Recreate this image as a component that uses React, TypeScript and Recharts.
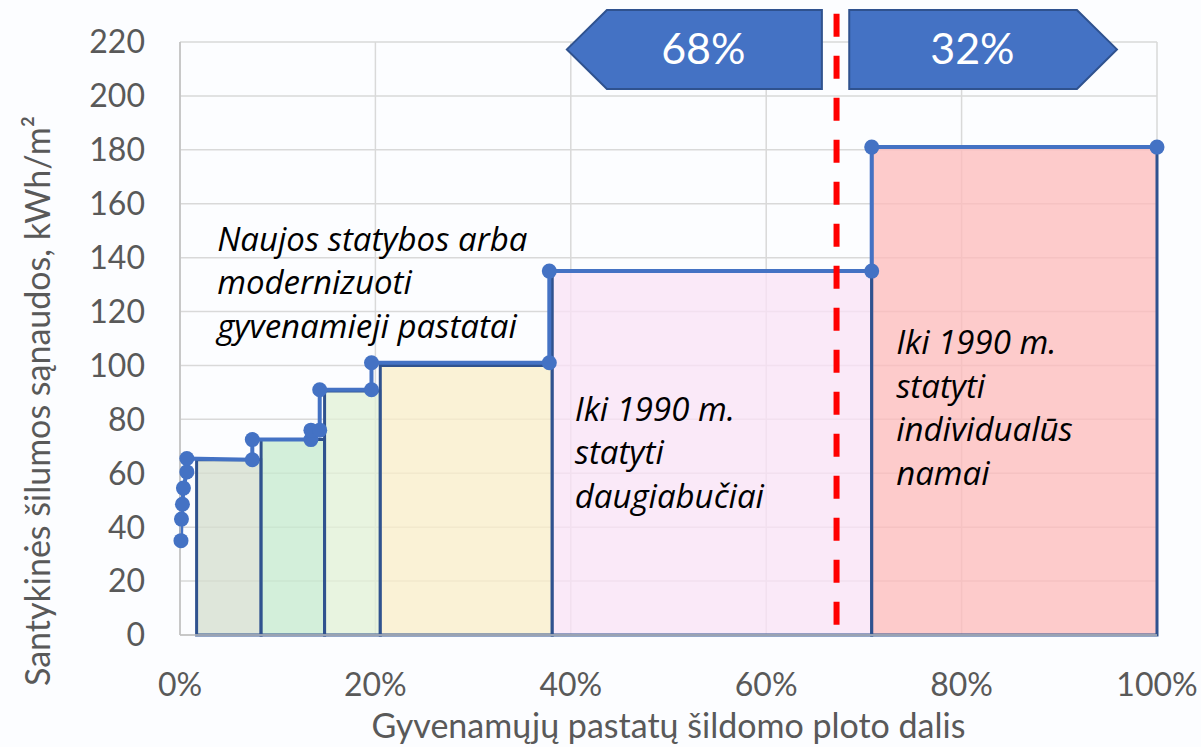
import React from 'react';
import {
  ComposedChart,
  Line,
  XAxis,
  YAxis,
  CartesianGrid,
  ReferenceArea,
  ReferenceLine,
  ReferenceDot,
  Label,
} from 'recharts';

const FONT = 'Lato, "Open Sans", sans-serif';
const NOTE_FONT = '"Open Sans", Lato, sans-serif';

// axis ticks
const shareTicks = [0, 20, 40, 60, 80, 100];
const energyTicks = [0, 20, 40, 60, 80, 100, 120, 140, 160, 180, 200, 220];

// step line (share of heated area %, kWh/m2)
const stepShare = [0.1, 0.15, 0.25, 0.35, 0.7, 0.7, 7.4, 7.4, 13.4, 13.4, 14.3, 14.3, 19.6, 19.6, 37.8, 37.8, 70.8, 70.8, 100];
const stepEnergy = [35, 43, 48.5, 54.5, 60.5, 65.5, 65, 72.5, 72.5, 76, 76, 91, 91, 101, 101, 135, 135, 181, 181];

// building groups drawn as blocks
const groupStart = [1.7, 8.3, 14.8, 20.5, 38.1, 70.8];
const groupEnd = [8.3, 14.8, 20.5, 38.1, 70.8, 100];
const groupEnergy = [65, 72.5, 90.5, 100, 135, 181];
const groupFill = ['#d4ddcd', '#c6eace', '#e2f0d6', '#faeec8', '#fae2f6', '#feb9b9'];

// annotations
const noteLines = [
  ['Naujos statybos arba', 'modernizuoti', 'gyvenamieji pastatai'],
  ['Iki 1990 m.', 'statyti', 'daugiabučiai'],
  ['Iki 1990 m.', 'statyti', 'individualūs', 'namai'],
];
const noteShare = [3.8, 40.4, 73.3];
const noteEnergy = [146.6, 83.5, 108.3];

// split marker and shares
const splitShare = 67.2;
const shareLabels = ['68%', '32%'];

const lineData = stepShare.map((x, i) => ({ x, y: stepEnergy[i] }));

const makeNote = (lines: string[]) => (props: any) => {
  const { cx, cy } = props;
  return (
    <text x={cx} y={cy + 11} fontFamily={NOTE_FONT} fontStyle="italic" fontSize={33} fill="#000">
      {lines.map((l, i) => (
        <tspan key={i} x={cx} dy={i === 0 ? 0 : 43.5}>
          {l}
        </tspan>
      ))}
    </text>
  );
};

const makeArrow = (dir: 'left' | 'right', label: string) => (props: any) => {
  const { x, y, width, height } = props;
  const tip = 40;
  const mid = y + height / 2;
  const pts =
    dir === 'left'
      ? `${x},${mid} ${x + tip},${y} ${x + width},${y} ${x + width},${y + height} ${x + tip},${y + height}`
      : `${x},${y} ${x + width - tip},${y} ${x + width},${mid} ${x + width - tip},${y + height} ${x},${y + height}`;
  const tx = dir === 'left' ? x + width * 0.535 : x + width * 0.46;
  return (
    <g>
      <polygon points={pts} fill="#4472c4" stroke="#2f528f" strokeWidth={2} />
      <text
        x={tx}
        y={mid + 15}
        textAnchor="middle"
        fontFamily={FONT}
        fontSize={43}
        fill="#fff"
      >
        {label}
      </text>
    </g>
  );
};

const renderYTitle = (props: any) => {
  const vb = props.viewBox || {};
  const cx = (vb.x || 0) + 50;
  const cy = 401;
  return (
    <text
      transform={`translate(${cx},${cy}) rotate(-90)`}
      textAnchor="middle"
      fontFamily={FONT}
      fontSize={34}
      fill="#595959"
    >
      Santykinės šilumos sąnaudos, kWh/m²
    </text>
  );
};

const renderXTitle = (props: any) => {
  const vb = props.viewBox || {};
  const cx = (vb.x || 0) + (vb.width || 0) / 2;
  return (
    <text x={cx} y={738} textAnchor="middle" fontFamily={FONT} fontSize={34} fill="#595959">
      Gyvenamųjų pastatų šildomo ploto dalis
    </text>
  );
};

export default function App() {
  return (
    <div style={{ position: 'absolute', left: 0, top: 0, width: 1201, height: 747, background: '#fcfdff' }}>
      <ComposedChart
        width={1201}
        height={747}
        data={lineData}
        margin={{ top: 42, right: 44, bottom: 0, left: 0 }}
      >
        <CartesianGrid stroke="#d9d9d9" strokeWidth={1.5} />
        <XAxis
          type="number"
          dataKey="x"
          domain={[0, 100]}
          ticks={shareTicks}
          tickFormatter={(v) => `${v}%`}
          height={112}
          tickLine={false}
          tickSize={0}
          tickMargin={38}
          axisLine={{ stroke: '#bfbfbf', strokeWidth: 1.5 }}
          tick={{ fontFamily: FONT, fontSize: 32, fill: '#595959' }}
        >
          <Label content={renderXTitle} />
        </XAxis>
        <YAxis
          type="number"
          domain={[0, 220]}
          ticks={energyTicks}
          width={180}
          tickLine={false}
          tickSize={0}
          tickMargin={35}
          axisLine={{ stroke: '#bfbfbf', strokeWidth: 1.5 }}
          tick={{ fontFamily: FONT, fontSize: 32, fill: '#595959' }}
        >
          <Label content={renderYTitle} />
        </YAxis>
        {groupStart.map((s, i) => (
          <ReferenceArea
            key={`g-${i}`}
            x1={s}
            x2={groupEnd[i]}
            y1={0}
            y2={groupEnergy[i]}
            fill={groupFill[i]}
            fillOpacity={0.75}
            stroke="#2f528f"
            strokeWidth={3}
            strokeOpacity={1}
          />
        ))}
        <Line
          type="linear"
          dataKey="y"
          stroke="#4472c4"
          strokeWidth={4}
          dot={{ r: 7.5, fill: '#4472c4', stroke: '#4472c4', strokeWidth: 0 }}
          isAnimationActive={false}
        />
        <ReferenceLine
          segment={[
            { x: splitShare, y: 230.5 },
            { x: splitShare, y: 0 },
          ]}
          stroke="#ff0000"
          strokeWidth={6}
          strokeDasharray="23 19"
          ifOverflow="visible"
        />
        <ReferenceArea
          x1={39.6}
          x2={65.7}
          y1={202.6}
          y2={231.9}
          ifOverflow="visible"
          shape={makeArrow('left', shareLabels[0])}
        />
        <ReferenceArea
          x1={68.5}
          x2={95.9}
          y1={202.6}
          y2={231.9}
          ifOverflow="visible"
          shape={makeArrow('right', shareLabels[1])}
        />
        {noteLines.map((lines, i) => (
          <ReferenceDot
            key={`n-${i}`}
            x={noteShare[i]}
            y={noteEnergy[i]}
            r={0}
            shape={makeNote(lines)}
          />
        ))}
      </ComposedChart>
    </div>
  );
}
